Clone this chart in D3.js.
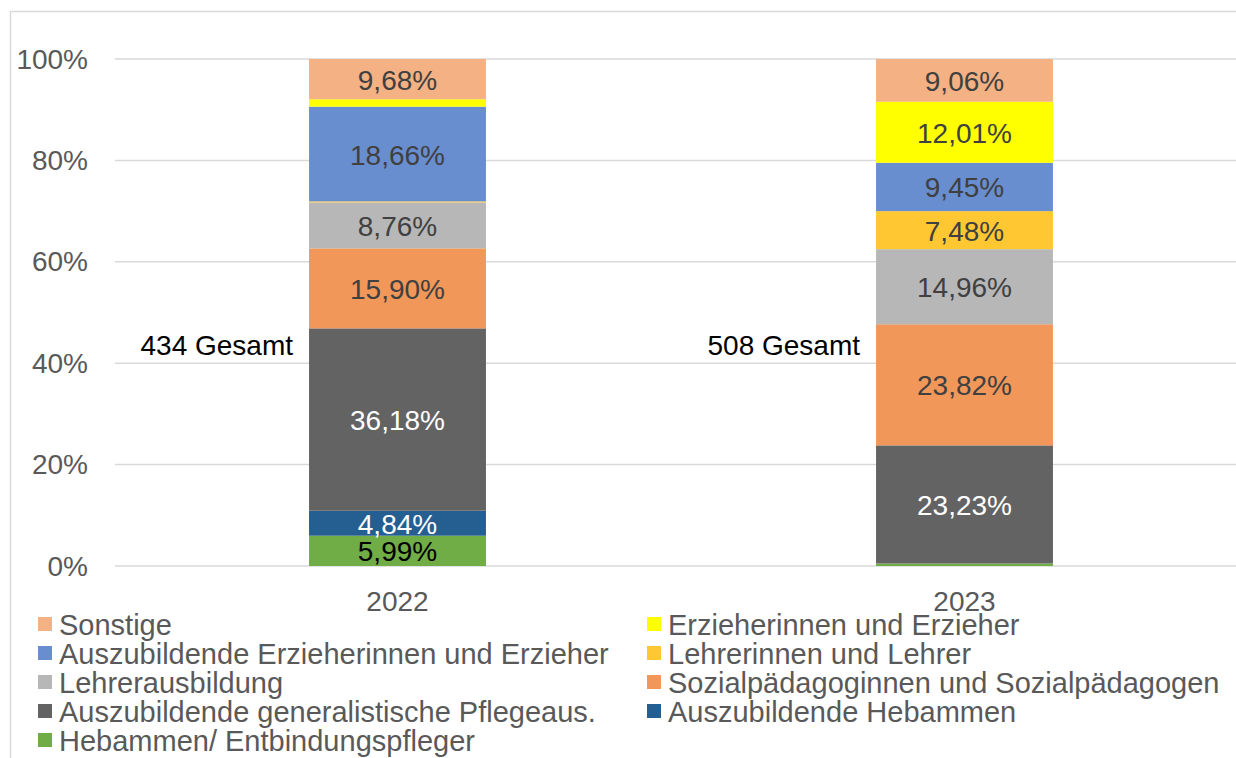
<!DOCTYPE html>
<html>
<head>
<meta charset="utf-8">
<script src="https://cdn.jsdelivr.net/npm/d3@7"></script>
<style>
  html, body { margin: 0; padding: 0; background: #fff; }
  svg { display: block; font-family: "Liberation Sans", Arial, sans-serif; }
</style>
</head>
<body>
<div id="chart"></div>
<script>
// categories and totals
const years = ["2022", "2023"];
const totals = [434, 508];

// series, bottom to top
const seriesNames = [
    "Hebammen/ Entbindungspfleger",
    "Auszubildende Hebammen",
    "Auszubildende generalistische Pflegeaus.",
    "Sozialpädagoginnen und Sozialpädagogen",
    "Lehrerausbildung",
    "Lehrerinnen und Lehrer",
    "Auszubildende Erzieherinnen und Erzieher",
    "Erzieherinnen und Erzieher",
    "Sonstige"
];
const seriesColors = ["#70AD47", "#255E91", "#636363", "#F1975A", "#B7B7B7",
                      "#FFC832", "#698ED0", "#FFFF00", "#F4B183"];
const labelColors = ["#000000", "#ffffff", "#ffffff", "#404040", "#404040",
                     "#404040", "#404040", "#404040", "#404040"];

// segment shares (percent)
const values2022 = [5.98, 4.93, 36.0, 15.8, 9.07, 0.2, 18.7, 1.46, 7.95];
const values2023 = [0.5, 0, 23.27, 23.87, 14.79, 7.5, 9.53, 12.03, 8.42];

// data labels printed on the bars (null = no label)
const labels2022 = [5.99, 4.84, 36.18, 15.90, 8.76, null, 18.66, null, 9.68];
const labels2023 = [null, null, 23.23, 23.82, 14.96, 7.48, 9.45, 12.01, 9.06];

const yTicks = [0, 0.2, 0.4, 0.6, 0.8, 1];

const width = 1236, height = 758;
const de = d3.formatLocale({decimal: ",", thousands: ".", grouping: [3], currency: ["", "€"]});
const fmtPct = de.format(".2f");

const rows = years.map((y, i) => {
    const r = {year: y};
    const vals = i === 0 ? values2022 : values2023;
    seriesNames.forEach((s, j) => r[s] = vals[j]);
    return r;
});
const labelRows = [labels2022, labels2023];

const stacked = d3.stack()
    .keys(seriesNames)
    .offset(d3.stackOffsetExpand)(rows);

const svg = d3.select("#chart").append("svg")
    .attr("width", width)
    .attr("height", height);

// outer frame
svg.append("line").attr("x1", 10.5).attr("x2", 10.5).attr("y1", 11).attr("y2", height)
    .attr("stroke", "#d9d9d9").attr("stroke-width", 1.5);
svg.append("line").attr("x1", 10).attr("x2", width).attr("y1", 11.5).attr("y2", 11.5)
    .attr("stroke", "#d9d9d9").attr("stroke-width", 1.5);

const x = d3.scaleBand()
    .domain(years)
    .range([114, 1248])
    .paddingInner(0.688)
    .paddingOuter(0.344);

const y = d3.scaleLinear()
    .domain([0, 1])
    .range([566, 59]);

// gridlines
svg.append("g").selectAll("line")
    .data(yTicks)
    .join("line")
    .attr("x1", 115).attr("x2", width)
    .attr("y1", d => y(d)).attr("y2", d => y(d))
    .attr("stroke", "#d9d9d9").attr("stroke-width", 1.5);

// y tick labels
svg.append("g").selectAll("text")
    .data(yTicks)
    .join("text")
    .attr("x", 88)
    .attr("y", d => y(d))
    .attr("text-anchor", "end")
    .attr("dominant-baseline", "central")
    .attr("fill", "#595959")
    .style("font-size", "28px")
    .text(d => Math.round(d * 100) + "%");

// bars
const layers = svg.append("g").selectAll("g")
    .data(stacked)
    .join("g")
    .attr("fill", (d, i) => seriesColors[i]);

layers.selectAll("rect")
    .data(d => d)
    .join("rect")
    .attr("x", d => x(d.data.year))
    .attr("width", x.bandwidth())
    .attr("y", d => y(d[1]))
    .attr("height", d => y(d[0]) - y(d[1]));

// data labels
stacked.forEach((layer, i) => {
    layer.forEach((seg, k) => {
        const lab = labelRows[k][i];
        if (lab === null) return;
        svg.append("text")
            .attr("x", x(seg.data.year) + x.bandwidth() / 2)
            .attr("y", y((seg[0] + seg[1]) / 2) + 1)
            .attr("text-anchor", "middle")
            .attr("dominant-baseline", "central")
            .attr("fill", labelColors[i])
            .style("font-size", "28px")
            .text(fmtPct(lab) + "%");
    });
});

// totals next to the bars
svg.append("g").selectAll("text")
    .data(years)
    .join("text")
    .attr("x", d => x(d) - 16)
    .attr("y", 345)
    .attr("text-anchor", "end")
    .attr("dominant-baseline", "central")
    .attr("fill", "#000")
    .style("font-size", "28px")
    .text((d, i) => totals[i] + " Gesamt");

// x axis labels
svg.append("g").selectAll("text")
    .data(years)
    .join("text")
    .attr("x", d => x(d) + x.bandwidth() / 2)
    .attr("y", 601)
    .attr("text-anchor", "middle")
    .attr("dominant-baseline", "central")
    .attr("fill", "#595959")
    .style("font-size", "28px")
    .text(d => d);

// legend: top series first, two columns, row by row
const legendItems = seriesNames.map((s, i) => ({name: s, color: seriesColors[i]})).reverse();
const legend = svg.append("g").selectAll("g")
    .data(legendItems)
    .join("g")
    .attr("transform", (d, i) => `translate(${i % 2 === 0 ? 38 : 647},${624 + Math.floor(i / 2) * 29})`);

legend.append("rect")
    .attr("x", 0).attr("y", -7)
    .attr("width", 14).attr("height", 14)
    .attr("fill", d => d.color);

legend.append("text")
    .attr("x", 21)
    .attr("y", 1)
    .attr("dominant-baseline", "central")
    .attr("fill", "#595959")
    .style("font-size", "29px")
    .text(d => d.name);
</script>
</body>
</html>
